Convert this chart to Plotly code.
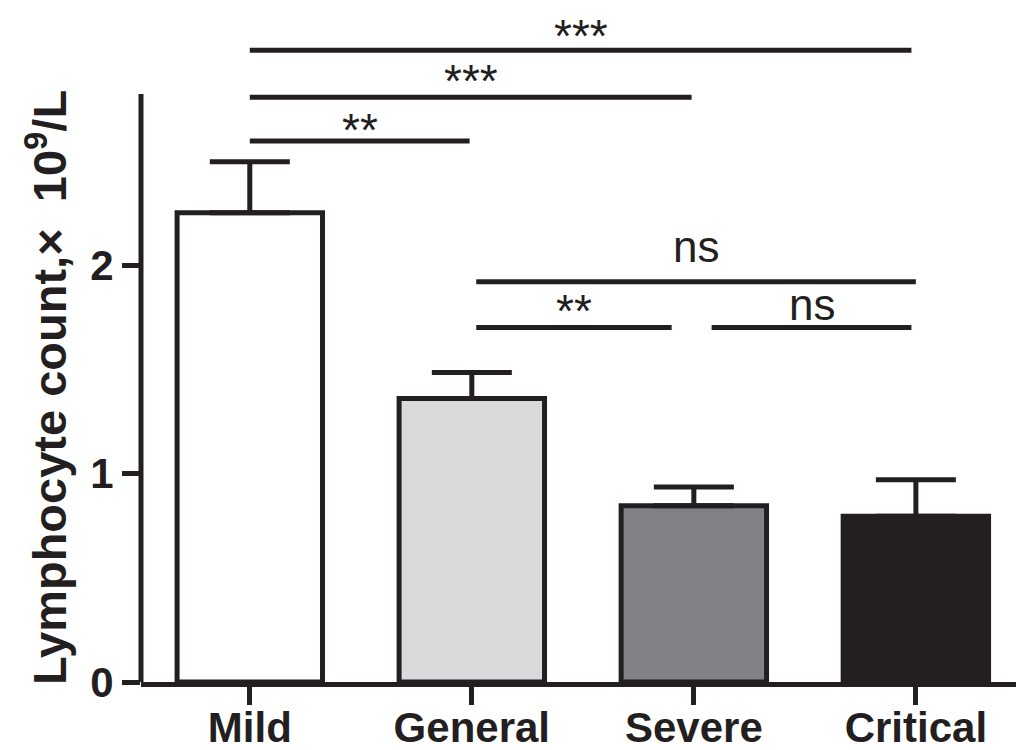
import plotly.graph_objects as go

# ---- data ----
categories = ["Mild", "General", "Severe", "Critical"]
means = [2.25, 1.36, 0.845, 0.795]
sem_upper = [0.245, 0.125, 0.09, 0.175]
bar_colors = ["#ffffff", "#d9dadb", "#808184", "#231f20"]
y_ticks = [0, 1, 2]

# comparisons: (start index, end index, label)
comparisons = [
    (0, 3, "***"),
    (0, 2, "***"),
    (0, 1, "**"),
    (1, 3, "ns"),
    (1, 2, "**"),
    (2, 3, "ns"),
]

# ---- layout helpers (positions / styles) ----
bracket_y = [3.03, 2.805, 2.595, 1.92, 1.70, 1.70]
bracket_x = [(0.0, 2.98), (0.0, 1.99), (0.0, 0.99), (1.02, 3.0), (1.02, 1.90), (2.08, 2.98)]
label_shift = [-2, 0, -5, 9, 1, -3]
INK = "#231f20"
FONT = "Liberation Sans, Arial, sans-serif"
x_pos = list(range(len(categories)))

fig = go.Figure()
fig.add_trace(go.Bar(
    x=x_pos, y=means, width=0.655,
    marker=dict(color=bar_colors, line=dict(color=INK, width=5)),
    error_y=dict(type="data", symmetric=False, array=sem_upper,
                 arrayminus=[0] * len(means), color=INK, thickness=5, width=40),
    showlegend=False,
))

shapes = []
annotations = []
for (i0, i1, lab), yv, (xa, xb), ys in zip(comparisons, bracket_y, bracket_x, label_shift):
    shapes.append(dict(type="line", xref="x", yref="y", x0=xa, x1=xb, y0=yv, y1=yv,
                       line=dict(color=INK, width=5)))
    is_star = "*" in lab
    ann = dict(
        x=(xa + xb) / 2, y=yv, xref="x", yref="y", text=lab, showarrow=False,
        yanchor="bottom", yshift=ys,
        font=dict(family=FONT, size=(46 if is_star else 44), color=INK),
    )
    if is_star:
        ann.update(height=40, valign="top")
    annotations.append(ann)

# y-axis title as a rotated annotation
annotations.append(dict(
    x=-0.108, y=0.438, xref="paper", yref="paper", showarrow=False,
    text="Lymphocyte count,×&nbsp;&nbsp;10<sup>9</sup>/L", textangle=-90,
    xanchor="center", yanchor="middle",
    font=dict(family=FONT, size=47, color=INK, weight="bold"),
))

# visible y axis line (stops at ~2.82)
shapes.append(dict(type="line", xref="paper", yref="y", x0=0, x1=0, y0=0, y1=2.82,
                   line=dict(color=INK, width=5)))

fig.update_layout(
    width=1016, height=742,
    margin=dict(l=133, r=6, t=2, b=68),
    plot_bgcolor="white", paper_bgcolor="white",
    font=dict(family=FONT, color=INK),
    shapes=shapes, annotations=annotations,
    xaxis=dict(
        range=[-0.49, 3.46], tickmode="array", tickvals=x_pos, ticktext=categories,
        showline=True, linewidth=5, linecolor=INK, ticks="outside", ticklen=18,
        tickwidth=5, tickcolor=INK, showgrid=False, zeroline=False, automargin=False,
        ticklabelstandoff=-13,
        tickfont=dict(family=FONT, size=42, color=INK, weight="bold"),
    ),
    yaxis=dict(
        range=[0, 3.223], tickmode="array", tickvals=y_ticks,
        showline=False, ticks="outside", ticklen=18, tickwidth=5, tickcolor=INK,
        showgrid=False, zeroline=False, automargin=False,
        tickfont=dict(family=FONT, size=42, color=INK, weight="bold"),
    ),
)

fig.write_html("out.html")
